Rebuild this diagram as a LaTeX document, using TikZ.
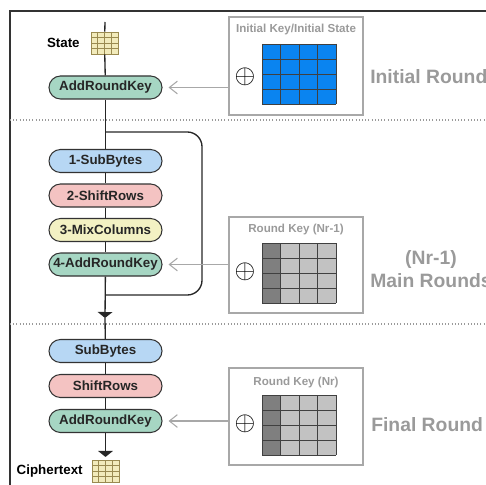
\documentclass[tikz,border=0pt]{standalone}
\usepackage{fontspec}
\setmainfont{Liberation Sans}
\usepackage{xcolor}
\usetikzlibrary{arrows.meta,positioning}

\definecolor{subblue}{HTML}{B7D7F4}
\definecolor{shiftpink}{HTML}{F4C3C2}
\definecolor{mixyellow}{HTML}{F3F1C3}
\definecolor{addgreen}{HTML}{A6D6C3}
\definecolor{boxline}{HTML}{333333}
\definecolor{keyblue}{HTML}{0A84F0}
\definecolor{keydark}{HTML}{7F7F7F}
\definecolor{keylight}{HTML}{C2C2C2}
\definecolor{gridyellow}{HTML}{F2EBBB}
\definecolor{gridbrown}{HTML}{9A8A50}
\definecolor{lblgray}{HTML}{9A9A9A}
\definecolor{framegray}{HTML}{A8A8A8}

\begin{document}
\begin{tikzpicture}[x=0.75pt,y=-0.75pt,
  opbox/.style={draw=boxline, line width=0.8pt, rounded corners=8.6pt, minimum width=84.75pt,
    minimum height=17.25pt, inner sep=0pt, font=\fontsize{10}{12}\selectfont\bfseries, text=black!85},
  keybox/.style={draw=framegray, line width=0.8pt, minimum width=100.5pt, inner sep=0pt},
  keyarrow/.style={draw=framegray, line width=0.8pt, -{Straight Barb[length=6pt,width=9.5pt]}, shorten >=4.5pt},
  flow/.style={line width=1pt, black!85},
  downtip/.style={-{Triangle[length=4.5pt,width=11pt]}},
  xorsign/.style={scale=2, inner sep=0pt},
  roundlbl/.style={text=lblgray, font=\fontsize{14.5}{17}\selectfont\bfseries},
  keytitle/.style={text=lblgray, font=\fontsize{8.7}{10}\selectfont\bfseries},
  sidelbl/.style={font=\fontsize{10}{12}\selectfont\bfseries, inner sep=0pt},
  smallgrid/.style={draw=gridbrown, fill=gridyellow, line width=0.6pt, minimum width=20.25pt,
    minimum height=16.5pt, inner sep=0pt},
  smallline/.style={gridbrown, line width=0.5pt},
  gridline/.style={black!75, line width=0.5pt}]

\useasboundingbox (0,0) rectangle (486,485);

% Frame and separators
\draw[line width=0.8pt, black!80] (10,485) -- (10,11) -- (486,11);
\draw[lblgray, line width=0.8pt, dash pattern=on 0.8pt off 1.6pt] (10,120) -- (486,120);
\draw[lblgray, line width=0.8pt, dash pattern=on 0.8pt off 1.6pt] (10,324) -- (486,324);

% State
\coordinate (top) at (105,22);
\node[smallgrid] (state) at (104.5,43) {};
\foreach \i in {1,2,3} {
  \draw[smallline] (91+6.75*\i,32) -- (91+6.75*\i,54);
  \draw[smallline] (91,32+5.5*\i) -- (118,32+5.5*\i);
}
\node[sidelbl, left=8pt of state] (statelbl) {State};

% Round steps
\node[opbox, fill=addgreen] (ark0) at (105.5,87.5) {AddRoundKey};
\node[opbox, fill=subblue] (sb1) at (105.5,161) {1-SubBytes};
\node[opbox, fill=shiftpink] (sr2) at (105.5,195.5) {2-ShiftRows};
\node[opbox, fill=mixyellow] (mc3) at (105.5,230) {3-MixColumns};
\node[opbox, fill=addgreen] (ark4) at (105.5,264.5) {4-AddRoundKey};
\node[opbox, fill=subblue] (sbF) at (105.5,351) {SubBytes};
\node[opbox, fill=shiftpink] (srF) at (105.5,386) {ShiftRows};
\node[opbox, fill=addgreen] (arkF) at (105.5,421) {AddRoundKey};

% Ciphertext
\node[smallgrid] (cipher) at (105.5,471) {};
\foreach \i in {1,2,3} {
  \draw[smallline] (92+6.75*\i,460) -- (92+6.75*\i,482);
  \draw[smallline] (92,460+5.5*\i) -- (119,460+5.5*\i);
}
\node[sidelbl, left=6.5pt of cipher] (cipherlbl) {Ciphertext};

% Main flow
\coordinate (loopin) at (105,132);
\coordinate (loopout) at (105,295);
\coordinate (mid) at (105,318);
\draw[flow] (top) -- (state);
\draw[flow] (state) -- (ark0);
\draw[flow] (ark0) -- (sb1);
\draw[flow] (sb1) -- (sr2);
\draw[flow] (sr2) -- (mc3);
\draw[flow] (mc3) -- (ark4);
\draw[flow, downtip] (ark4) -- (mid);
\draw[flow] (mid) -- (sbF);
\draw[flow] (sbF) -- (srF);
\draw[flow] (srF) -- (arkF);
\draw[flow, downtip, shorten >=2pt] (arkF) -- (cipher);

% Loop back
\draw[flow, rounded corners=11pt] (loopin) -- (202,132) -- (202,295) -- (loopout);

% Key boxes
\node[keybox, minimum height=73.5pt] (key1) at (296,66) {};
\node[keybox, minimum height=72pt] (key2) at (296,265) {};
\node[keybox, minimum height=72.75pt] (key3) at (296,416.5) {};
\node[keytitle] (t1) at (296,30) {Initial Key/Initial State};
\node[keytitle] (t2) at (296,229) {Round Key (Nr-1)};
\node[keytitle] (t3) at (296,382) {Round Key (Nr)};
\node[xorsign] (x1) at (245,77) {$\oplus$};
\node[xorsign] (x2) at (245,272) {$\oplus$};
\node[xorsign] (x3) at (245,424) {$\oplus$};

% Key grids
\foreach \gy/\ca/\cb in {44/keyblue/keyblue, 243/keydark/keylight, 395/keydark/keylight} {
  \fill[\cb] (262,\gy) rectangle (336,\gy+60);
  \fill[\ca] (262,\gy) rectangle (280.5,\gy+60);
  \foreach \i in {0,...,4} {
    \draw[gridline] (262+18.5*\i,\gy) -- (262+18.5*\i,\gy+60);
    \draw[gridline] (262,\gy+15*\i) -- (336,\gy+15*\i);
  }
}

% Key arrows
\draw[keyarrow] (ark0.east -| key1.west) -- (ark0.east);
\draw[keyarrow] (ark4.east -| key2.west) -- (ark4.east);
\draw[keyarrow] (arkF.east -| key3.west) -- (arkF.east);

% Round labels
\node[roundlbl, anchor=west, inner sep=0pt] (r1) at (370,77) {Initial Round};
\node[roundlbl, align=center] (r2) at (431,269) {(Nr-1)\\Main Rounds};
\node[roundlbl, anchor=west, inner sep=0pt] (r3) at (371,425) {Final Round};

\end{tikzpicture}
\end{document}
